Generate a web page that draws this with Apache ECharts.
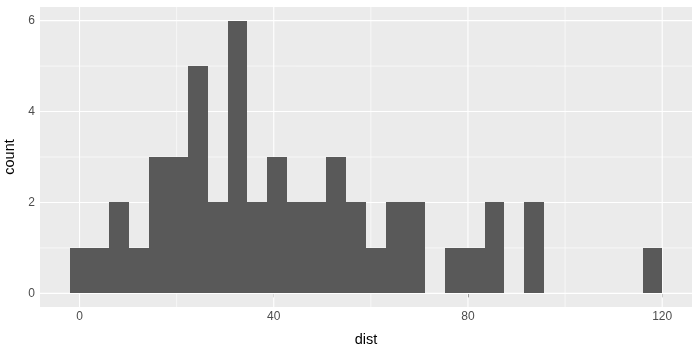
<!DOCTYPE html>
<html>
<head>
<meta charset="utf-8">
<script src="https://cdn.jsdelivr.net/npm/echarts@6/dist/echarts.min.js"></script>
<style>html,body{margin:0;padding:0;background:#fff}#c{width:700px;height:350px}</style>
</head>
<body>
<div id="c"></div>
<script>
// Histogram of dist, 30 bins
const binWidth = 4.069;
const binCenters = [0.000, 4.069, 8.138, 12.207, 16.276, 20.345, 24.414, 28.483, 32.552, 36.621,
  40.690, 44.759, 48.828, 52.897, 56.966, 61.034, 65.103, 69.172, 73.241, 77.310,
  81.379, 85.448, 89.517, 93.586, 97.655, 101.724, 105.793, 109.862, 113.931, 118.000];
const counts = [1, 1, 2, 1, 3, 3, 5, 2, 6, 2, 3, 2, 2, 3, 2, 1, 2, 2, 0, 1, 1, 2, 0, 2, 0, 0, 0, 0, 0, 1];
const xTicks = [0, 40, 80, 120];
const xMinor = [20, 60, 100];
const yTicks = [0, 2, 4, 6];
const yMinor = [1, 3, 5];
const xRange = [-8.137, 126.137];
const yRange = [-0.3, 6.3];

const font = 'Liberation Sans, Arial, sans-serif';
const chart = echarts.init(document.getElementById('c'), null, {renderer: 'canvas'});

function gridSeries(values, dim, width) {
  return {
    type: 'custom', z: 1, silent: true,
    data: values.map(v => [v]),
    renderItem(params, api) {
      const v = api.value(0);
      const cs = params.coordSys;
      let shape;
      if (dim === 'x') {
        const p = api.coord([v, yRange[0]]);
        shape = {x1: p[0], y1: cs.y, x2: p[0], y2: cs.y + cs.height};
      } else {
        const p = api.coord([xRange[0], v]);
        shape = {x1: cs.x, y1: p[1], x2: cs.x + cs.width, y2: p[1]};
      }
      return {type: 'line', shape, style: {stroke: '#FFFFFF', lineWidth: width}};
    }
  };
}

chart.setOption({
  animation: false,
  backgroundColor: '#FFFFFF',
  grid: {show: true, backgroundColor: '#EBEBEB', borderWidth: 0, left: 40, right: 8, top: 7, bottom: 43,
    containLabel: false, outerBoundsMode: 'none'},
  xAxis: {
    type: 'value', min: xRange[0], max: xRange[1],
    axisLine: {show: false},
    axisTick: {show: true, customValues: xTicks, length: 4, lineStyle: {color: '#333333', width: 1}},
    axisLabel: {customValues: xTicks, color: '#4D4D4D', fontSize: 12, margin: 4, fontFamily: font},
    splitLine: {show: false},
    name: 'dist', nameLocation: 'middle', nameGap: 25, nameMoveOverlap: false,
    nameTextStyle: {color: '#000000', fontSize: 14.5, fontFamily: font}
  },
  yAxis: {
    type: 'value', min: yRange[0], max: yRange[1],
    axisLine: {show: false},
    axisTick: {show: true, customValues: yTicks, length: 4, lineStyle: {color: '#333333', width: 1}},
    axisLabel: {customValues: yTicks, color: '#4D4D4D', fontSize: 12, margin: 5, fontFamily: font},
    splitLine: {show: false},
    name: 'count', nameLocation: 'middle', nameRotate: 90, nameGap: 23, nameMoveOverlap: false,
    nameTextStyle: {color: '#000000', fontSize: 14.5, fontFamily: font}
  },
  series: [
    gridSeries(xMinor, 'x', 0.6),
    gridSeries(yMinor, 'y', 0.6),
    gridSeries(xTicks, 'x', 1.1),
    gridSeries(yTicks, 'y', 1.1),
    {
      type: 'custom', z: 5,
      data: binCenters.map((c, i) => [c, counts[i]]),
      renderItem(params, api) {
        const c = api.value(0), n = api.value(1);
        if (!n) return null;
        const p0 = api.coord([c - binWidth / 2, n]);
        const p1 = api.coord([c + binWidth / 2, 0]);
        const x0 = Math.round(p0[0]), x1 = Math.round(p1[0]);
        const y0 = Math.round(p0[1]), y1 = Math.round(p1[1]);
        return {type: 'rect', shape: {x: x0, y: y0, width: x1 - x0, height: y1 - y0},
          style: {fill: '#595959'}};
      }
    }
  ]
});
</script>
</body>
</html>
